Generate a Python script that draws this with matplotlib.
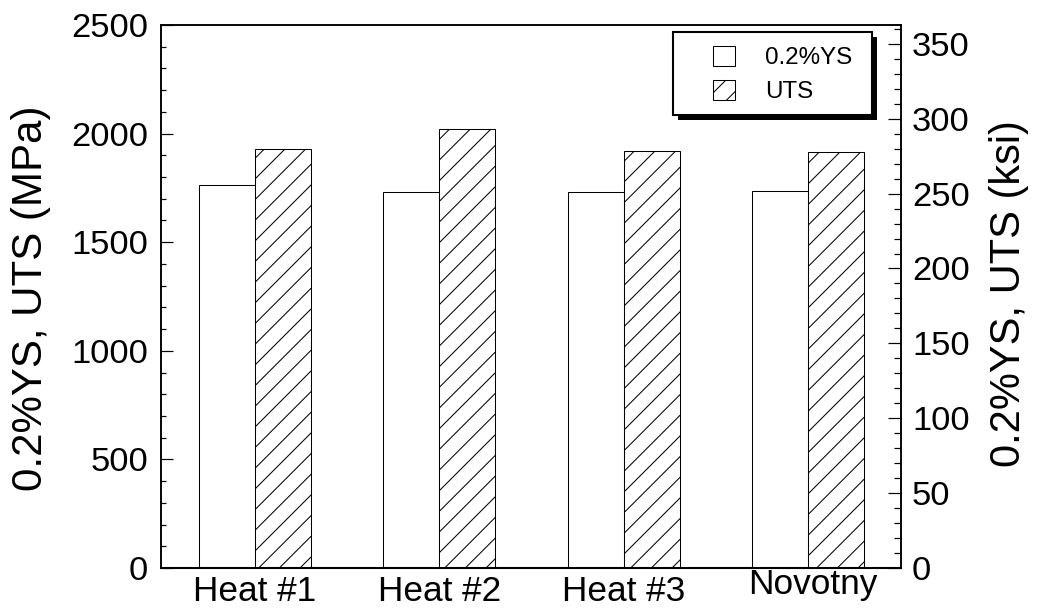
import matplotlib
matplotlib.use("Agg")
import matplotlib.pyplot as plt
import matplotlib.transforms as mtransforms
from matplotlib.patches import Rectangle
from matplotlib.ticker import MultipleLocator
import numpy as np

plt.rcParams['font.family'] = ['Liberation Sans', 'DejaVu Sans']
plt.rcParams['hatch.linewidth'] = 0.6

categories = ["Heat #1", "Heat #2", "Heat #3", "Novotny"]
ys_mpa = [1763, 1730, 1733, 1736]
uts_mpa = [1930, 2021, 1922, 1915]
series_labels = ["0.2%YS", "UTS"]
left_label = "0.2%YS, UTS (MPa)"
right_label = "0.2%YS, UTS (ksi)"
MPA_PER_KSI = 6.895

DPI = 124
W, H = 1037, 615
AX_L, AX_R, AX_T, AX_B = 161, 901, 25, 568
fig = plt.figure(figsize=(W / DPI, H / DPI), dpi=DPI)
ax = fig.add_axes([AX_L / W, 1 - AX_B / H, (AX_R - AX_L) / W, (AX_B - AX_T) / H])


def axfrac(px, py):
    return (px - AX_L) / (AX_R - AX_L), (AX_B - py) / (AX_B - AX_T)


x = np.arange(len(categories))
w = 0.304
b1 = ax.bar(x - w / 2, ys_mpa, w, facecolor='white', edgecolor='black',
            linewidth=0.6, label=series_labels[0])
b2 = ax.bar(x + w / 2, uts_mpa, w, facecolor='white', edgecolor='black',
            linewidth=0.6, hatch='//', label=series_labels[1])

ax.set_xlim(-0.51, 3.505)
ax.set_ylim(0, 2500)
ax.yaxis.set_major_locator(MultipleLocator(500))
ax.yaxis.set_minor_locator(MultipleLocator(100))
for s in ax.spines.values():
    s.set_linewidth(0.9)
ax.spines['bottom'].set_linewidth(1.2)
ax.tick_params(axis='y', which='major', direction='in', length=7, width=0.7,
               labelsize=20, pad=7.5, left=True, right=False)
ax.tick_params(axis='y', which='minor', direction='in', length=3, width=0.7,
               left=True, right=False)
ax.set_xticks(x)
ax.set_xticklabels(categories)
ax.tick_params(axis='x', which='both', length=0, labelsize=20.5, pad=4.3)

ax2 = ax.twinx()
ax2.set_ylim(0, 2500 / MPA_PER_KSI)
ax2.yaxis.set_major_locator(MultipleLocator(50))
ax2.yaxis.set_minor_locator(MultipleLocator(10))
ax2.tick_params(axis='y', which='major', direction='in', length=7.5, width=0.7,
                labelsize=20, pad=6.4)
ax2.tick_params(axis='y', which='minor', direction='in', length=4, width=0.7)
for s in ax2.spines.values():
    s.set_linewidth(0.9)

# Novotny label sits slightly higher and to the right in the original
lab = ax.get_xticklabels()[3]
lab.set_transform(lab.get_transform() +
                  mtransforms.ScaledTranslation(5 / DPI, 7 / DPI, fig.dpi_scale_trans))

fig.text(31 / W, 1 - 298.5 / H, left_label, rotation=90, ha='center',
         va='center', fontsize=24.4)
fig.text(1009 / W, 1 - 294 / H, right_label, rotation=90, ha='center',
         va='center', fontsize=24.2)

# legend box with drop shadow
fx0, fy0 = axfrac(673, 115)
fx1, fy1 = axfrac(872, 32)
sx0, sy0 = axfrac(678, 120)
ax2.add_patch(Rectangle((sx0, sy0), fx1 - fx0, fy1 - fy0, transform=ax2.transAxes,
                        facecolor='black', edgecolor='black', linewidth=0, zorder=5))
ax2.add_patch(Rectangle((fx0, fy0), fx1 - fx0, fy1 - fy0, transform=ax2.transAxes,
                        facecolor='white', edgecolor='black', linewidth=1.2, zorder=6))

lx, ly = axfrac(713, 46)
leg = ax2.legend(handles=[b1, b2], labels=series_labels, loc='upper left',
                 bbox_to_anchor=(lx, ly), borderaxespad=0, borderpad=0,
                 fontsize=14, frameon=False,
                 handlelength=0.92, handleheight=0.88, handletextpad=1.25,
                 labelspacing=0.45)
leg.set_zorder(7)

fig.savefig("out.png", dpi=DPI)
